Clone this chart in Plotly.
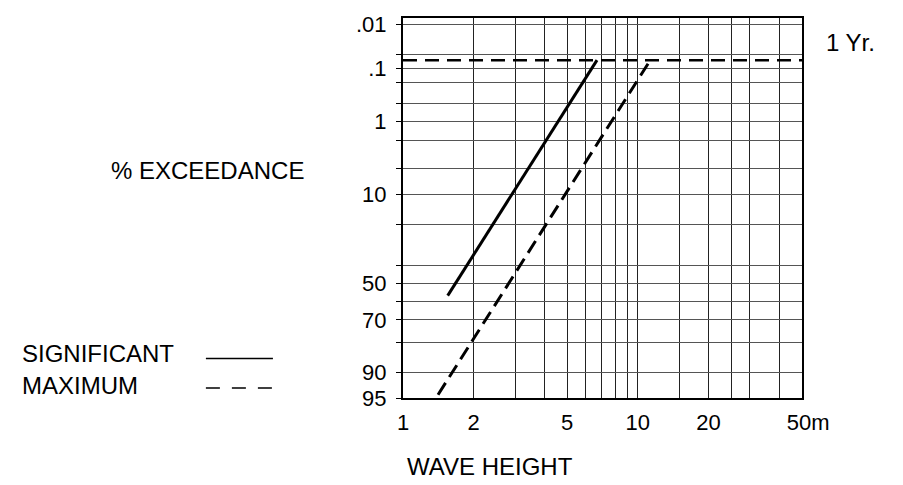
import math
from statistics import NormalDist
import plotly.graph_objects as go

# ---------------- data ----------------
X_GRID = [1, 2, 3, 4, 5, 6, 7, 8, 9, 10, 15, 20, 25, 30, 40, 50]
X_LABELS = {1: "1", 2: "2", 5: "5", 10: "10", 20: "20", 50: "\u00a0\u00a050m"}
Y_GRID = [0.01, 0.05, 0.1, 0.2, 0.5, 1, 2, 5, 10, 20, 40, 50, 60, 70, 80, 90, 95]
Y_LABELS = {0.01: ".01", 0.1: ".1", 1: "1", 10: "10", 50: "50", 70: "70", 90: "90", 95: "95"}
X_RANGE = [1, 50]
Y_RANGE_PCT = [95, 0.007]

SIG_H = [1.55, 6.7]      # significant wave height (m)
SIG_P = [57, 0.068]      # % exceedance
MAX_H = [1.41, 11.3]     # maximum wave height (m)
MAX_P = [94.5, 0.068]
ONE_YEAR_P = 0.068       # % exceedance of 1-year level

ND = NormalDist()


def py(p):
    """Normal-probability transform of % exceedance."""
    return ND.inv_cdf(1 - p / 100.0)


FONT = "Liberation Sans, Arial, Helvetica, sans-serif"

fig = go.Figure()

fig.add_trace(go.Scatter(
    x=SIG_H, y=[py(p) for p in SIG_P], mode="lines",
    line=dict(color="black", width=3), showlegend=False, hoverinfo="skip"))
fig.add_trace(go.Scatter(
    x=MAX_H, y=[py(p) for p in MAX_P], mode="lines",
    line=dict(color="black", width=3, dash="14px,7px"), showlegend=False, hoverinfo="skip"))
fig.add_trace(go.Scatter(
    x=X_RANGE, y=[py(ONE_YEAR_P)] * 2, mode="lines",
    line=dict(color="black", width=2.5, dash="14px,8px"), showlegend=False, hoverinfo="skip"))

fig.update_xaxes(
    type="log", range=[math.log10(X_RANGE[0]), math.log10(X_RANGE[1])],
    tickmode="array", tickvals=X_GRID,
    ticktext=[X_LABELS.get(v, "") for v in X_GRID],
    showgrid=True, gridcolor="#222", gridwidth=1.4,
    showline=True, linecolor="black", linewidth=2, mirror=True,
    ticks="", ticklabelstandoff=4,
    tickfont=dict(family=FONT, size=22, color="black"),
    zeroline=False, fixedrange=True)

fig.update_yaxes(
    range=[py(Y_RANGE_PCT[0]), py(Y_RANGE_PCT[1])],
    tickmode="array", tickvals=[py(v) for v in Y_GRID],
    ticktext=[Y_LABELS.get(v, "") for v in Y_GRID],
    showgrid=True, gridcolor="#555", gridwidth=1.2,
    showline=True, linecolor="black", linewidth=2, mirror=True,
    ticks="outside", ticklen=5, tickcolor="black", ticklabelstandoff=5,
    tickfont=dict(family=FONT, size=22, color="black"),
    zeroline=False, fixedrange=True)

ann_font = dict(family=FONT, size=24, color="black")
fig.add_annotation(text="% EXCEEDANCE", xref="paper", yref="paper", x=-0.243, y=0.60,
                   xanchor="right", yanchor="middle", showarrow=False, font=ann_font)
fig.add_annotation(text="WAVE HEIGHT", xref="paper", yref="paper", x=0.005, y=-0.179,
                   xanchor="left", yanchor="middle", showarrow=False, font=ann_font)
fig.add_annotation(text="1 Yr.", xref="paper", yref="paper", x=1.055, y=0.935,
                   xanchor="left", yanchor="middle", showarrow=False, font=ann_font)
fig.add_annotation(text="SIGNIFICANT", xref="paper", yref="paper", x=-0.96, y=0.117,
                   xanchor="left", yanchor="middle", showarrow=False, font=ann_font)
fig.add_annotation(text="MAXIMUM", xref="paper", yref="paper", x=-0.96, y=0.034,
                   xanchor="left", yanchor="middle", showarrow=False, font=ann_font)

# legend keys
fig.add_shape(type="line", xref="paper", yref="paper", x0=-0.494, x1=-0.326, y0=0.104, y1=0.104,
              line=dict(color="black", width=1.5))
fig.add_shape(type="line", xref="paper", yref="paper", x0=-0.494, x1=-0.326, y0=0.026, y1=0.026,
              line=dict(color="black", width=1.5, dash="14px,12px"))

fig.update_layout(
    width=903, height=485,
    margin=dict(l=403, r=101, t=12, b=87),
    paper_bgcolor="white", plot_bgcolor="white",
    showlegend=False,
    font=dict(family=FONT, color="black"))

fig.write_html("out.html", config={"displayModeBar": False},
               post_script="document.body.style.margin='0px';")
